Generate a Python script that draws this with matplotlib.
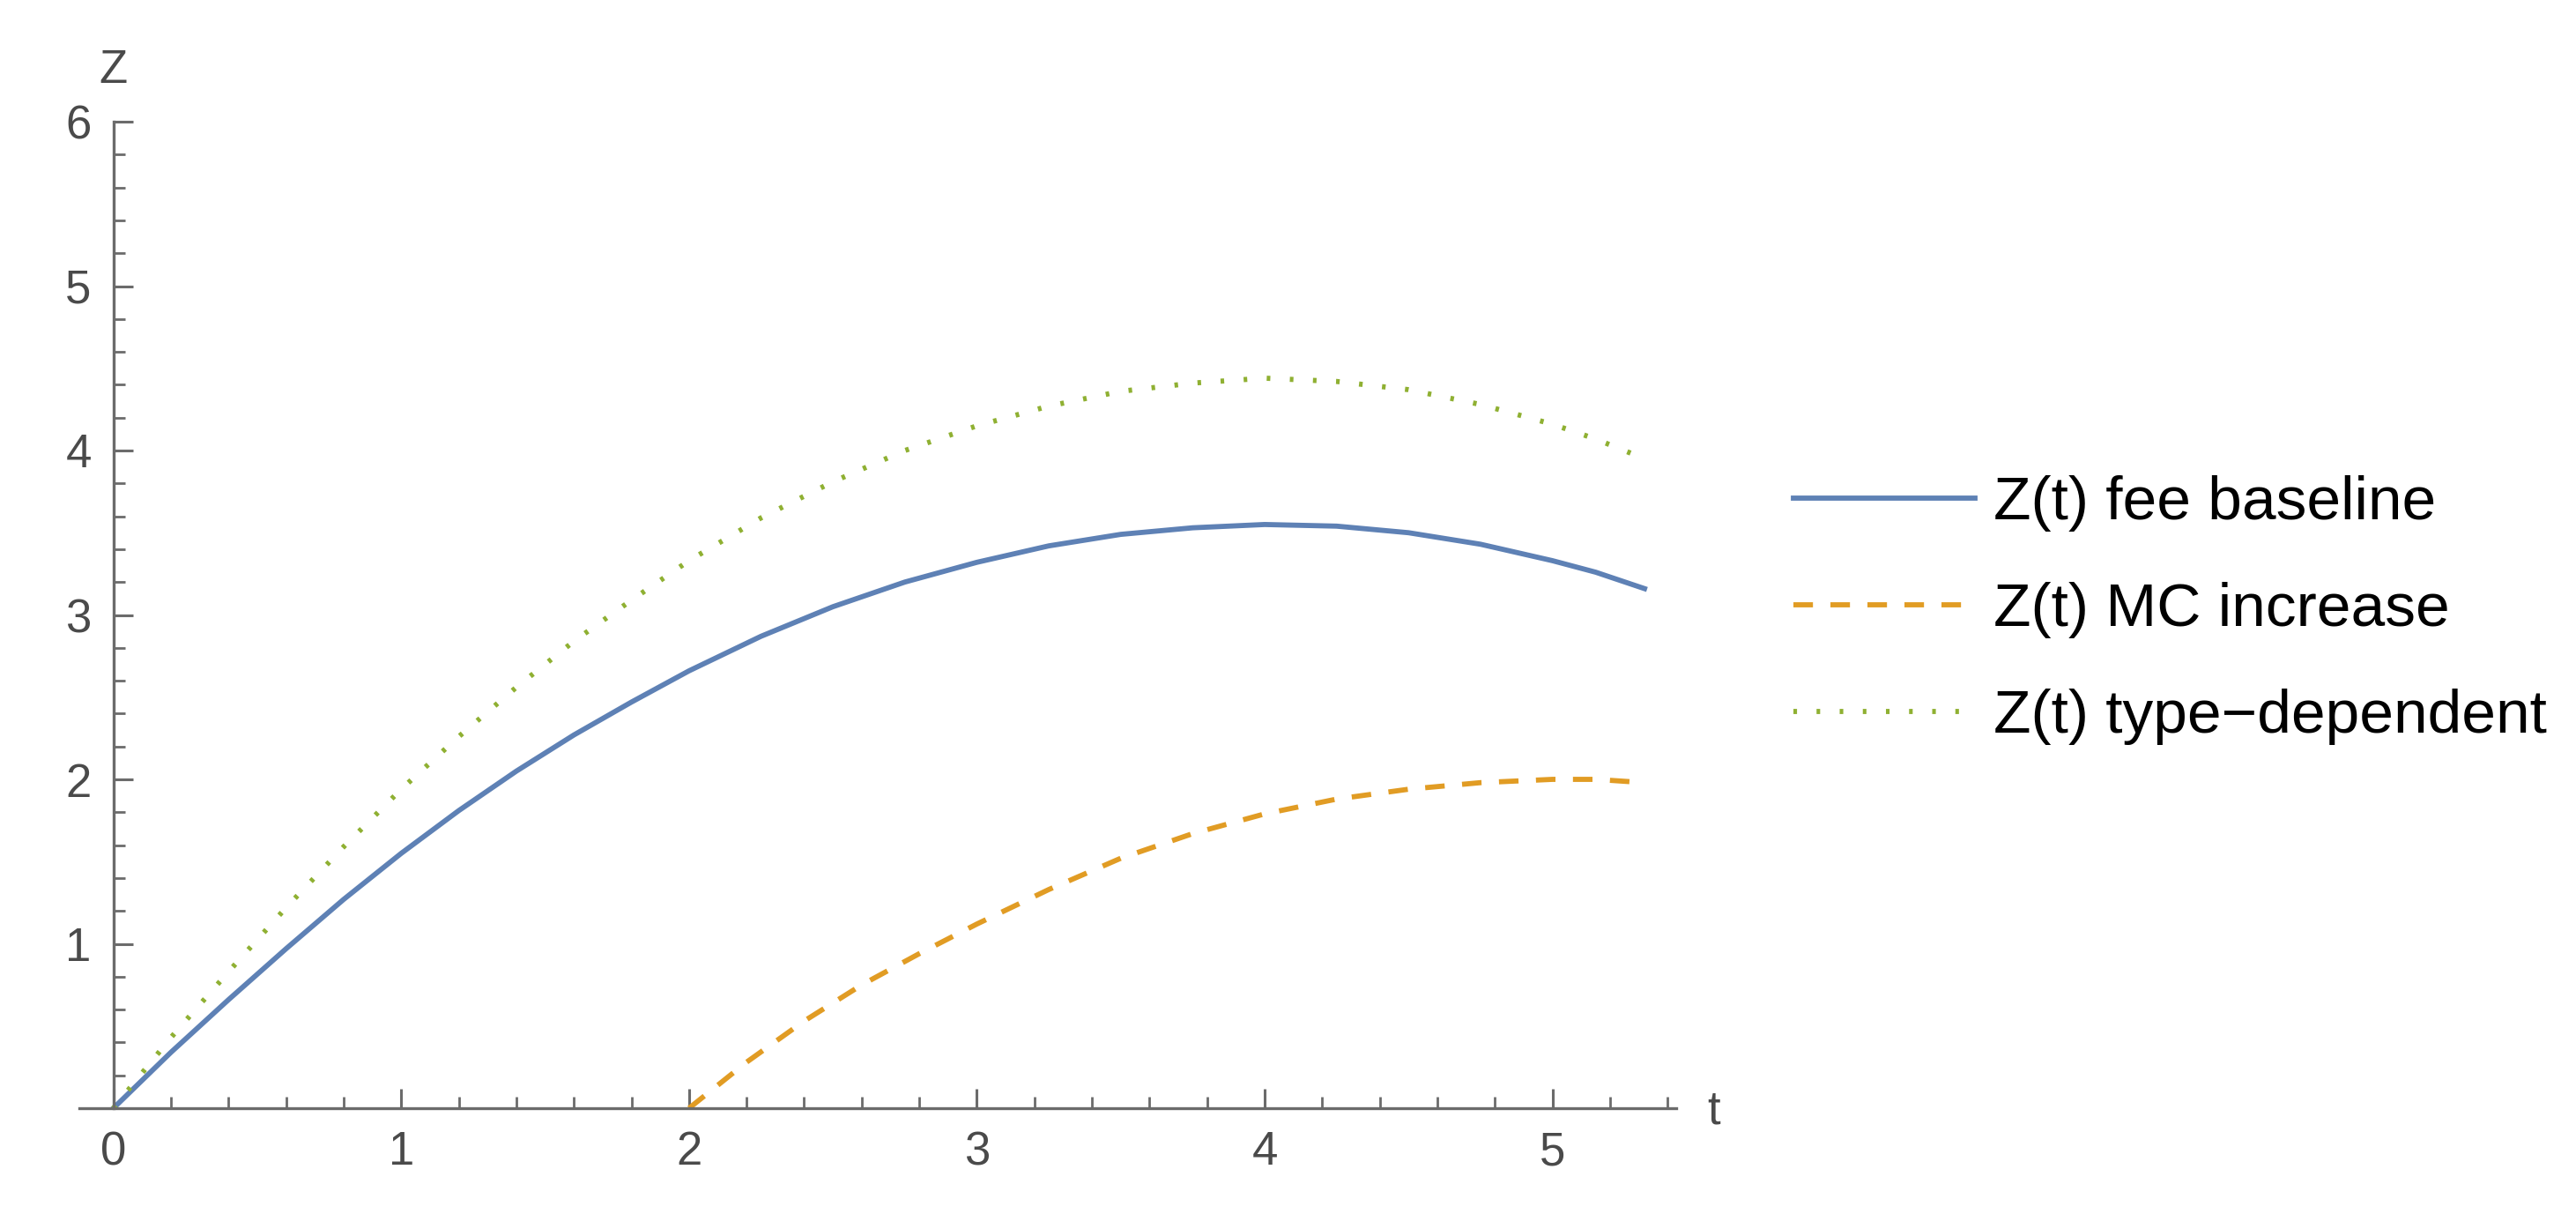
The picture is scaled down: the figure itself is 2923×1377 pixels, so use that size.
import matplotlib
matplotlib.use("Agg")
import matplotlib.pyplot as plt
from matplotlib.ticker import MultipleLocator

plt.rcParams['font.family'] = ['Liberation Sans', 'DejaVu Sans']

# values
t_main = [0, 0.2, 0.4, 0.6, 0.8, 1.0, 1.2, 1.4, 1.6, 1.8, 2.0, 2.25, 2.5, 2.75,
          3.0, 3.25, 3.5, 3.75, 4.0, 4.25, 4.5, 4.75, 5.0, 5.15, 5.32]
z_baseline = [0, 0.34, 0.66, 0.97, 1.27, 1.55, 1.81, 2.05, 2.27, 2.47, 2.66, 2.87,
              3.05, 3.20, 3.32, 3.42, 3.49, 3.53, 3.55, 3.54, 3.50, 3.43, 3.33, 3.26, 3.16]
z_typedep = [0, 0.43, 0.83, 1.22, 1.59, 1.94, 2.26, 2.56, 2.84, 3.09, 3.33, 3.59,
             3.81, 4.00, 4.15, 4.27, 4.36, 4.41, 4.44, 4.42, 4.37, 4.28, 4.16, 4.07, 3.95]

t_mc = [2.0, 2.2, 2.4, 2.6, 2.8, 3.0, 3.25, 3.5, 3.75, 4.0, 4.25, 4.5, 4.75, 5.0, 5.15, 5.32]
z_mc = [0, 0.28, 0.53, 0.75, 0.94, 1.12, 1.33, 1.52, 1.67, 1.79, 1.88, 1.94, 1.98,
        2.00, 2.00, 1.98]

labels = ["Z(t) fee baseline", "Z(t) MC increase", "Z(t) type\u2212dependent"]
colors = ["#5E81B5", "#E19C24", "#8FB032"]

W, H = 2923, 1377
fig = plt.figure(figsize=(W / 100, H / 100), dpi=100)
ax = fig.add_axes([89.5 / W, 120 / H, (1902 - 89.5) / W, (1257 - 138) / H])

lw = 4.2
ax.plot(t_main, z_baseline, color=colors[0], lw=lw, label=labels[0],
        solid_joinstyle='round')
ax.plot(t_mc, z_mc, color=colors[1], lw=lw, label=labels[1],
        linestyle=(0, (3.8, 3.4)))
ax.plot(t_main, z_typedep, color=colors[2], lw=lw, label=labels[2],
        linestyle=(0, (0.7, 3.8)))

ax.set_xlim(-0.12, 5.43)
ax.set_ylim(0, 6)

axis_col = "#6b6b6b"
for s in ['top', 'right']:
    ax.spines[s].set_visible(False)
ax.spines['left'].set_position(('data', 0))
ax.spines['bottom'].set_position(('data', 0))
for s in ['left', 'bottom']:
    ax.spines[s].set_color(axis_col)
    ax.spines[s].set_linewidth(2.4)

ax.set_xticks([0, 1, 2, 3, 4, 5])
ax.set_yticks([1, 2, 3, 4, 5, 6])
ax.xaxis.set_minor_locator(MultipleLocator(0.2))
ax.yaxis.set_minor_locator(MultipleLocator(0.2))
ax.tick_params(which='major', direction='in', length=16, width=2.2, color=axis_col,
               labelsize=38, labelcolor="#4a4a4a")
ax.tick_params(which='minor', direction='in', length=9.5, width=2.0, color=axis_col)
ax.tick_params(axis='x', pad=18)
ax.tick_params(axis='y', pad=18)

ax.text(0, 6.31, "Z", ha='center', va='center', fontsize=38, color="#4a4a4a",
        clip_on=False)
ax.text(5.56, -0.02, "t", ha='center', va='center', fontsize=38, color="#4a4a4a",
        clip_on=False)

fig.legend(loc='center left', bbox_to_anchor=(2035 / W, 1 - 692 / H),
           frameon=False, fontsize=50, handlelength=2.97, handletextpad=0.3,
           labelspacing=0.82, borderpad=0, borderaxespad=0)

fig.savefig("out.png", dpi=100, facecolor='white')
